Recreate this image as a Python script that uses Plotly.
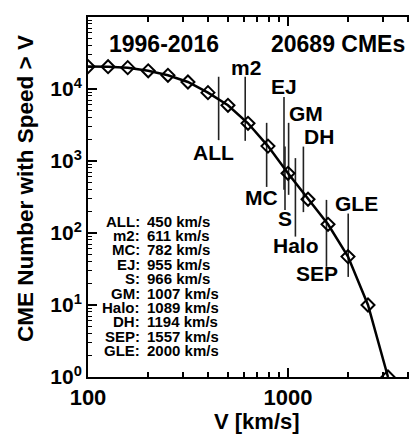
import math
import plotly.graph_objects as go

# ---------------- data ----------------
speed = [100, 126, 158, 200, 251, 316, 398, 501, 631, 794, 1000, 1259, 1585, 1995, 2512, 3162]
count = [20500, 20400, 19800, 17900, 15500, 12500, 8900, 5940, 3340, 1610, 675, 294, 132, 47, 10, 1]

event_names = ["ALL", "m2", "MC", "EJ", "S", "GM", "Halo", "DH", "SEP", "GLE"]
event_speeds = [450, 611, 782, 955, 966, 1007, 1089, 1194, 1557, 2000]

period_label = "1996-2016"
total_label = "20689 CMEs"
x_title = "V [km/s]"
y_title = "CME Number with Speed > V"
xtick_vals = [100, 1000, 10000]
xtick_text = ["100", "1000", "10000"]
ytick_vals = [1, 10, 100, 1000, 10000, 100000]
ytick_text = ["10<sup>0</sup>", "10<sup>1</sup>", "10<sup>2</sup>",
              "10<sup>3</sup>", "10<sup>4</sup>", "10<sup>5</sup>"]

# ---------------- style / placement ----------------
FONT = "Liberation Sans, Arial, Helvetica, sans-serif"
OFF = 8                      # default page body margin, compensated below
PL, PT, PB = 88, 17, 377     # plot area edges on the page (px)
PW = 417 - PL
PH = PB - PT

def px_x(p):
    return (p - PL) / PW

def px_y(p):
    return (PB - p) / PH

# vertical marker segments: (top, bottom) in log10 units of the y axis
seg_top = [4.17, 4.17, 3.53, 3.89, 3.20, 3.53, 3.04, 3.20, 2.46, 2.27]
seg_bot = [3.29, 3.28, 2.64, 2.60, 2.32, 2.53, 1.95, 2.29, 1.53, 1.39]
# label placement: y (log10 units) and horizontal pixel shift
lab_y = [3.115, 4.30, 2.50, 4.03, 2.20, 3.66, 1.83, 3.34, 1.44, 2.41]
lab_dx = [-5, 1, -5, 0, 0, 17, 1, 16, -9, 8]

fig = go.Figure()

xs, ys = [], []
for v, t, b in zip(event_speeds, seg_top, seg_bot):
    xs += [v, v, None]
    ys += [10 ** t, 10 ** b, None]
fig.add_trace(go.Scatter(x=xs, y=ys, mode="lines",
                         line=dict(color="#222222", width=1.6),
                         hoverinfo="skip", showlegend=False))

fig.add_trace(go.Scatter(x=speed, y=count, mode="lines+markers",
                         line=dict(color="black", width=2.5),
                         marker=dict(symbol="diamond-open", size=10,
                                     color="black", line=dict(width=2, color="black")),
                         showlegend=False))

ann = []
for name, v, y, dx in zip(event_names, event_speeds, lab_y, lab_dx):
    ann.append(dict(x=math.log10(v), y=y, xref="x", yref="y", text=name,
                    showarrow=False, xshift=dx, xanchor="center", yanchor="middle",
                    font=dict(family=FONT, size=21, color="black", weight="bold")))

row0_px = 220.5
row_step = 14.4
for i, (name, v) in enumerate(zip(event_names, event_speeds)):
    yp = px_y(row0_px + i * row_step)
    ann.append(dict(x=px_x(142), y=yp, xref="paper", yref="paper", height=14,
                    text=f"{name}:", showarrow=False, xanchor="right", yanchor="middle",
                    font=dict(family=FONT, size=15, color="black", weight="bold")))
    ann.append(dict(x=px_x(145), y=yp, xref="paper", yref="paper", height=14,
                    text=f"{v} km/s", showarrow=False, xanchor="left", yanchor="middle",
                    font=dict(family=FONT, size=15, color="black", weight="bold")))

ann.append(dict(x=px_x(164), y=px_y(44), xref="paper", yref="paper",
                text=period_label, showarrow=False, xanchor="center", yanchor="middle",
                font=dict(family=FONT, size=23, color="black", weight="bold")))
ann.append(dict(x=px_x(338), y=px_y(44), xref="paper", yref="paper",
                text=total_label, showarrow=False, xanchor="center", yanchor="middle",
                font=dict(family=FONT, size=23, color="black", weight="bold")))

ann.append(dict(x=px_x(256.5), y=px_y(421), xref="paper", yref="paper",
                text=x_title, showarrow=False, xanchor="center", yanchor="middle",
                font=dict(family=FONT, size=22, color="black", weight="bold")))
ann.append(dict(x=px_x(25), y=px_y(189), xref="paper", yref="paper",
                text=y_title, showarrow=False, xanchor="center", yanchor="middle",
                textangle=-90,
                font=dict(family=FONT, size=22.5, color="black", weight="bold")))

x_minor = [m * 10 ** d for d in (2, 3) for m in range(2, 10)]
y_minor = [m * 10 ** d for d in range(0, 5) for m in range(2, 10)]

fig.update_layout(
    width=417 - OFF, height=434 - OFF, autosize=False,
    margin=dict(l=PL - OFF, r=0, t=PT - OFF, b=434 - PB, pad=0),
    paper_bgcolor="white", plot_bgcolor="white",
    font=dict(family=FONT, color="black"),
    annotations=ann,
    xaxis=dict(type="log", range=[2, 2 + PW / 200.0], showgrid=False, zeroline=False,
               showline=True, linecolor="black", linewidth=2, mirror="allticks",
               ticks="inside", ticklen=9, tickwidth=1.5, tickcolor="black",
               tickvals=xtick_vals, ticktext=xtick_text,
               tickfont=dict(family=FONT, size=22, color="black", weight="bold"),
               minor=dict(ticks="inside", ticklen=5, tickwidth=1.5, tickcolor="black",
                          tickvals=x_minor, showgrid=False)),
    yaxis=dict(type="log", range=[0, 5], showgrid=False, zeroline=False,
               showline=True, linecolor="black", linewidth=2, mirror=False,
               ticks="inside", ticklen=9, tickwidth=1.5, tickcolor="black",
               tickvals=ytick_vals, ticktext=ytick_text,
               tickfont=dict(family=FONT, size=21, color="black", weight="bold"),
               minor=dict(ticks="inside", ticklen=4, tickwidth=1.2, tickcolor="black",
                          tickvals=y_minor, showgrid=False)),
)

fig.write_html("out.html")
